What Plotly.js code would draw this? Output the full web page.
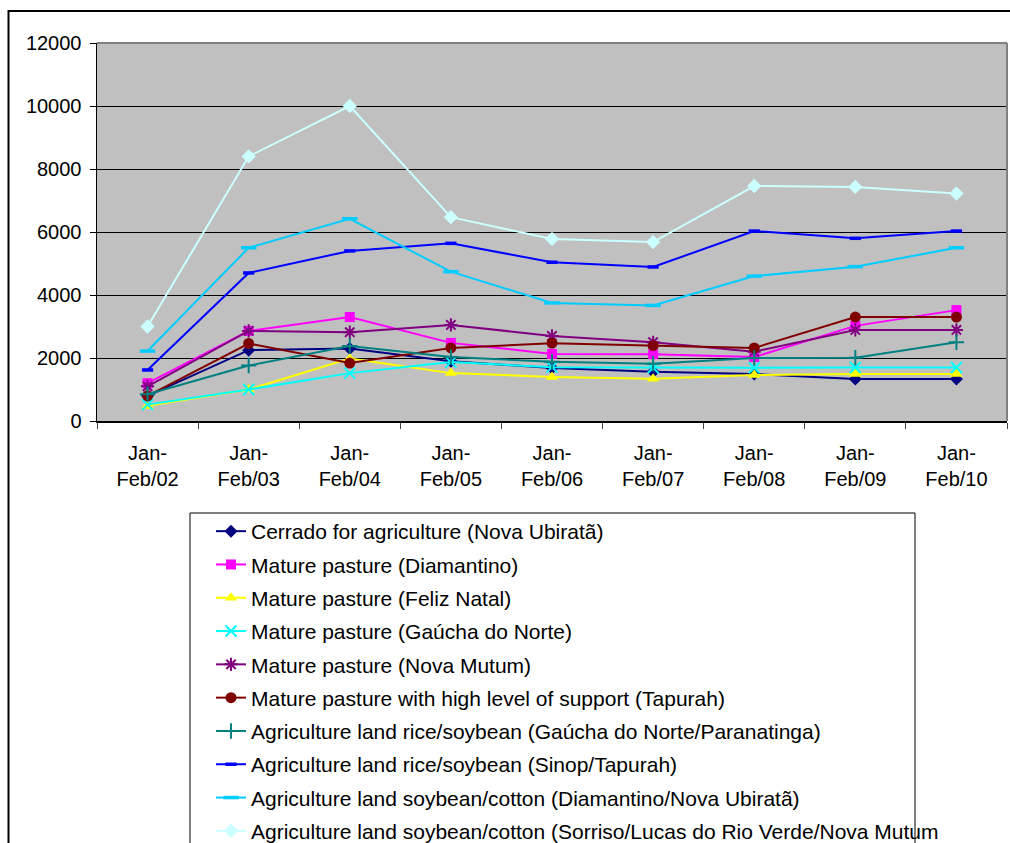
<!DOCTYPE html>
<html>
<head>
<meta charset="utf-8">
<script src="https://cdn.plot.ly/plotly-3.0.1.min.js"></script>
<style>
html,body{margin:0;padding:0;overflow:hidden;background:#fff;}
#chart{width:1010px;height:900px;}
</style>
</head>
<body>
<div id="chart"></div>
<script>
var categories = ["Jan-Feb/02","Jan-Feb/03","Jan-Feb/04","Jan-Feb/05","Jan-Feb/06","Jan-Feb/07","Jan-Feb/08","Jan-Feb/09","Jan-Feb/10"];
var tickLabels = ["Jan-<br>Feb/02","Jan-<br>Feb/03","Jan-<br>Feb/04","Jan-<br>Feb/05","Jan-<br>Feb/06","Jan-<br>Feb/07","Jan-<br>Feb/08","Jan-<br>Feb/09","Jan-<br>Feb/10"];

var seriesNames = [
  "Cerrado for agriculture (Nova Ubiratã)",
  "Mature pasture (Diamantino)",
  "Mature pasture (Feliz Natal)",
  "Mature pasture (Gaúcha do Norte)",
  "Mature pasture (Nova Mutum)",
  "Mature pasture with high level of support (Tapurah)",
  "Agriculture land rice/soybean (Gaúcha do Norte/Paranatinga)",
  "Agriculture land rice/soybean (Sinop/Tapurah)",
  "Agriculture land soybean/cotton (Diamantino/Nova Ubiratã)",
  "Agriculture land soybean/cotton (Sorriso/Lucas do Rio Verde/Nova Mutum"
];

var cerradoNovaUbirata   = [800, 2250, 2300, 1900, 1680, 1560, 1490, 1330, 1330];
var pastureDiamantino    = [1200, 2860, 3300, 2480, 2130, 2120, 2030, 3020, 3520];
var pastureFelizNatal    = [480, 1000, 1980, 1520, 1400, 1340, 1460, 1490, 1490];
var pastureGauchaNorte   = [520, 1000, 1520, 1870, 1710, 1690, 1690, 1700, 1700];
var pastureNovaMutum     = [1100, 2860, 2820, 3050, 2700, 2500, 2200, 2890, 2890];
var pastureTapurah       = [800, 2460, 1840, 2320, 2470, 2390, 2320, 3300, 3300];
var riceSoyGauchaParan   = [850, 1760, 2380, 2030, 1880, 1820, 2000, 2010, 2500];
var riceSoySinopTapurah  = [1620, 4700, 5400, 5640, 5040, 4890, 6030, 5800, 6030];
var soyCottonDiamUbir    = [2220, 5500, 6420, 4740, 3750, 3670, 4600, 4900, 5500];
var soyCottonSorriso     = [3000, 8400, 10000, 6470, 5780, 5680, 7460, 7430, 7220];

var allSeries = [cerradoNovaUbirata, pastureDiamantino, pastureFelizNatal, pastureGauchaNorte,
  pastureNovaMutum, pastureTapurah, riceSoyGauchaParan, riceSoySinopTapurah, soyCottonDiamUbir, soyCottonSorriso];

var colors  = ["#000080","#FF00FF","#FFFF00","#00FFFF","#800080","#800000","#008080","#0000FF","#00CCFF","#CCFFFF"];
var symbols = ["diamond","square","triangle-up","x-thin-open","asterisk-open","circle","cross-thin-open","line-ew-open","line-ew-open","diamond"];
var sizes   = [10, 10, 11, 11, 11, 11, 11, 8, 11, 11];
var mlw     = [0, 0, 0, 2, 2, 0, 2, 3.5, 3.5, 0];

var traces = allSeries.map(function(vals, i){
  return {
    type: "scatter",
    mode: "lines+markers",
    x: categories,
    y: vals,
    name: seriesNames[i],
    legendgroup: "g" + i,
    line: {color: colors[i], width: 2},
    marker: {symbol: symbols[i], size: sizes[i], color: colors[i], line: {color: colors[i], width: mlw[i]}},
    cliponaxis: false
  };
});

// plot area: x 97..1007, y 43..421 (px)
function px2x(p){ return (p - 97) / 910; }
function px2y(p){ return (421 - p) / 378; }

var layout = {
  width: 1010,
  height: 900,
  margin: {l: 97, r: 3, t: 43, b: 479, pad: 0},
  paper_bgcolor: "#FFFFFF",
  plot_bgcolor: "#C0C0C0",
  font: {family: "Liberation Sans, Arial, sans-serif", size: 20, color: "#000"},
  showlegend: true,
  xaxis: {
    type: "category",
    categoryorder: "array",
    categoryarray: categories,
    range: [-0.5, 8.5],
    tickmode: "array",
    tickvals: categories,
    ticktext: tickLabels,
    tickson: "boundaries",
    ticks: "outside",
    ticklen: 6,
    tickcolor: "#404040",
    tickwidth: 1,
    ticklabelstandoff: 13,
    showline: true,
    linecolor: "#000",
    linewidth: 1.5,
    showgrid: false,
    zeroline: false,
    tickfont: {size: 20}
  },
  yaxis: {
    range: [0, 12000],
    dtick: 2000,
    tick0: 0,
    tickformat: "d",
    ticks: "outside",
    ticklen: 6,
    tickcolor: "#000",
    ticklabelstandoff: 4,
    showline: true,
    linecolor: "#000",
    linewidth: 1.5,
    showgrid: true,
    gridcolor: "#000",
    gridwidth: 1,
    zeroline: false,
    tickfont: {size: 20}
  },
  legend: {
    x: px2x(211),
    y: px2y(511),
    xanchor: "left",
    yanchor: "top",
    bgcolor: "rgba(0,0,0,0)",
    borderwidth: 0,
    traceorder: "grouped",
    tracegroupgap: 3,
    font: {size: 21, color: "#000"},
    itemsizing: "trace"
  },
  shapes: [
    {type: "rect", xref: "paper", yref: "paper", x0: px2x(8.5), x1: px2x(1030), y0: px2y(11), y1: px2y(1000),
      line: {color: "#000", width: 2}, fillcolor: "rgba(0,0,0,0)", layer: "below"},
    {type: "line", xref: "paper", yref: "paper", x0: 0, x1: 1, y0: 1, y1: 1, line: {color: "#808080", width: 2}, layer: "above"},
    {type: "line", xref: "paper", yref: "paper", x0: 1, x1: 1, y0: 0, y1: 1, line: {color: "#808080", width: 2}, layer: "above"},
    {type: "rect", xref: "paper", yref: "paper", x0: px2x(190), x1: px2x(915), y0: px2y(513), y1: px2y(1000),
      line: {color: "#000", width: 1}, fillcolor: "rgba(0,0,0,0)", layer: "below"}
  ]
};

Plotly.newPlot("chart", traces, layout, {displayModeBar: false, staticPlot: true});
</script>
</body>
</html>
